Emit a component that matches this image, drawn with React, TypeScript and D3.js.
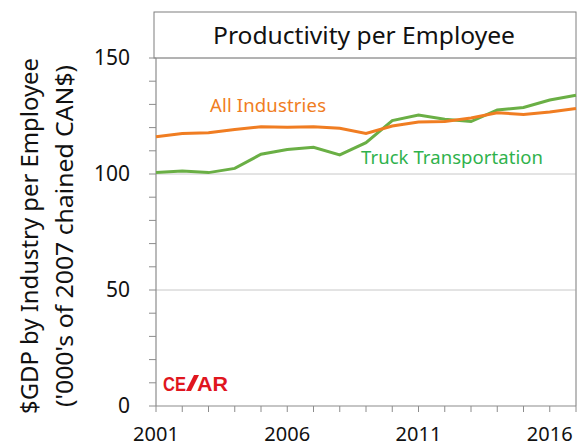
import React from "react";
import * as d3 from "d3";

const years = [2001, 2002, 2003, 2004, 2005, 2006, 2007, 2008, 2009, 2010, 2011, 2012, 2013, 2014, 2015, 2016, 2017];
const allIndustries = [116.1, 117.5, 117.8, 119.2, 120.4, 120.1, 120.4, 119.7, 117.5, 120.7, 122.4, 122.6, 124.1, 126.4, 125.7, 126.7, 128.2];
const truckTransport = [100.6, 101.3, 100.6, 102.4, 108.5, 110.6, 111.5, 108.2, 113.5, 123.0, 125.4, 123.6, 122.6, 127.6, 128.7, 131.9, 133.9];
const yTicks = [0, 50, 100, 150];
const xLabels = [2001, 2006, 2011, 2016];

const W = 585;
const H = 447;
const left = 156;
const right = 576;
const top = 58;
const bottom = 406;
const font = "Noto Sans, Open Sans, sans-serif";

export default function App() {
  const x = d3.scaleLinear().domain([2001, 2017]).range([left, right]);
  const y = d3.scaleLinear().domain([0, 150]).range([bottom, top]);
  const line = d3
    .line<number>()
    .x((d, i) => x(years[i]))
    .y((d) => y(d));
  const minor = d3.range(0, 151, 10);

  return (
    <svg width={W} height={H} style={{ position: "absolute", left: 0, top: 0, background: "#fff" }} fontFamily={font}>
      {/* title box */}
      <rect x={154} y={12} width={422} height={46} fill="#fff" stroke="#7f7f7f" strokeWidth={1} />
      <text x={213} y={44} fontSize={23} fill="#111" textLength={302} lengthAdjust="spacingAndGlyphs">
        Productivity per Employee
      </text>

      {/* gridlines */}
      {yTicks.filter((t) => t > 0 && t < 150).map((t) => (
        <line key={t} x1={left} x2={right} y1={y(t)} y2={y(t)} stroke="#c8c8c8" strokeWidth={1} />
      ))}
      {/* plot frame */}
      <line x1={left} x2={right} y1={y(150)} y2={y(150)} stroke="#a6a6a6" />
      <line x1={right} x2={right} y1={top} y2={bottom} stroke="#a6a6a6" strokeWidth={1.5} />

      {/* y axis */}
      <line x1={left} x2={left} y1={top} y2={bottom} stroke="#8c8c8c" strokeWidth={1.2} />
      {minor.map((t) => (
        <line key={t} x1={left - 7} x2={left} y1={y(t)} y2={y(t)} stroke="#8c8c8c" />
      ))}
      {yTicks.map((t) => (
        <text key={t} x={130} y={y(t)} dy="0.35em" textAnchor="end" fontSize={21} fill="#111">
          {t}
        </text>
      ))}

      {/* x axis */}
      <line x1={left} x2={right} y1={bottom} y2={bottom} stroke="#8c8c8c" strokeWidth={1.2} />
      {years.map((yr) => (
        <line key={yr} x1={x(yr)} x2={x(yr)} y1={bottom} y2={bottom + 6} stroke="#8c8c8c" />
      ))}
      {xLabels.map((yr) => (
        <text key={yr} x={x(yr)} y={441} textAnchor="middle" fontSize={20} fill="#111">
          {yr}
        </text>
      ))}

      {/* y label */}
      <g transform="translate(38,236) rotate(-90)">
        <text x={0} y={0} textAnchor="middle" fontSize={23} fill="#111" textLength={356} lengthAdjust="spacingAndGlyphs">
          $GDP by Industry  per Employee
        </text>
      </g>
      <g transform="translate(73,236) rotate(-90)">
        <text x={0} y={0} textAnchor="middle" fontSize={23} fill="#111" textLength={342} lengthAdjust="spacingAndGlyphs">
          ('000's of 2007 chained CAN$)
        </text>
      </g>

      {/* series */}
      <path d={line(truckTransport) ?? ""} fill="none" stroke="#6aaf45" strokeWidth={3} />
      <path d={line(allIndustries) ?? ""} fill="none" stroke="#f07d22" strokeWidth={3} />

      <text x={210} y={112} fontSize={18.5} fill="#f07d22" textLength={116}>
        All Industries
      </text>
      <text x={361} y={164} fontSize={18.5} fill="#2fb24c" textLength={182}>
        Truck Transportation
      </text>

      {/* logo */}
      <g fill="#e0161e" fontWeight="bold" fontSize={20} fontFamily="Liberation Sans Narrow, Liberation Sans, sans-serif">
        <text x={163} y={391} textLength={23} lengthAdjust="spacingAndGlyphs">CE</text>
        <path d="M 186 391 L 191 391 L 199 375 L 194 375 Z" />
        <text x={197} y={391} textLength={31} lengthAdjust="spacingAndGlyphs">AR</text>
      </g>
    </svg>
  );
}
